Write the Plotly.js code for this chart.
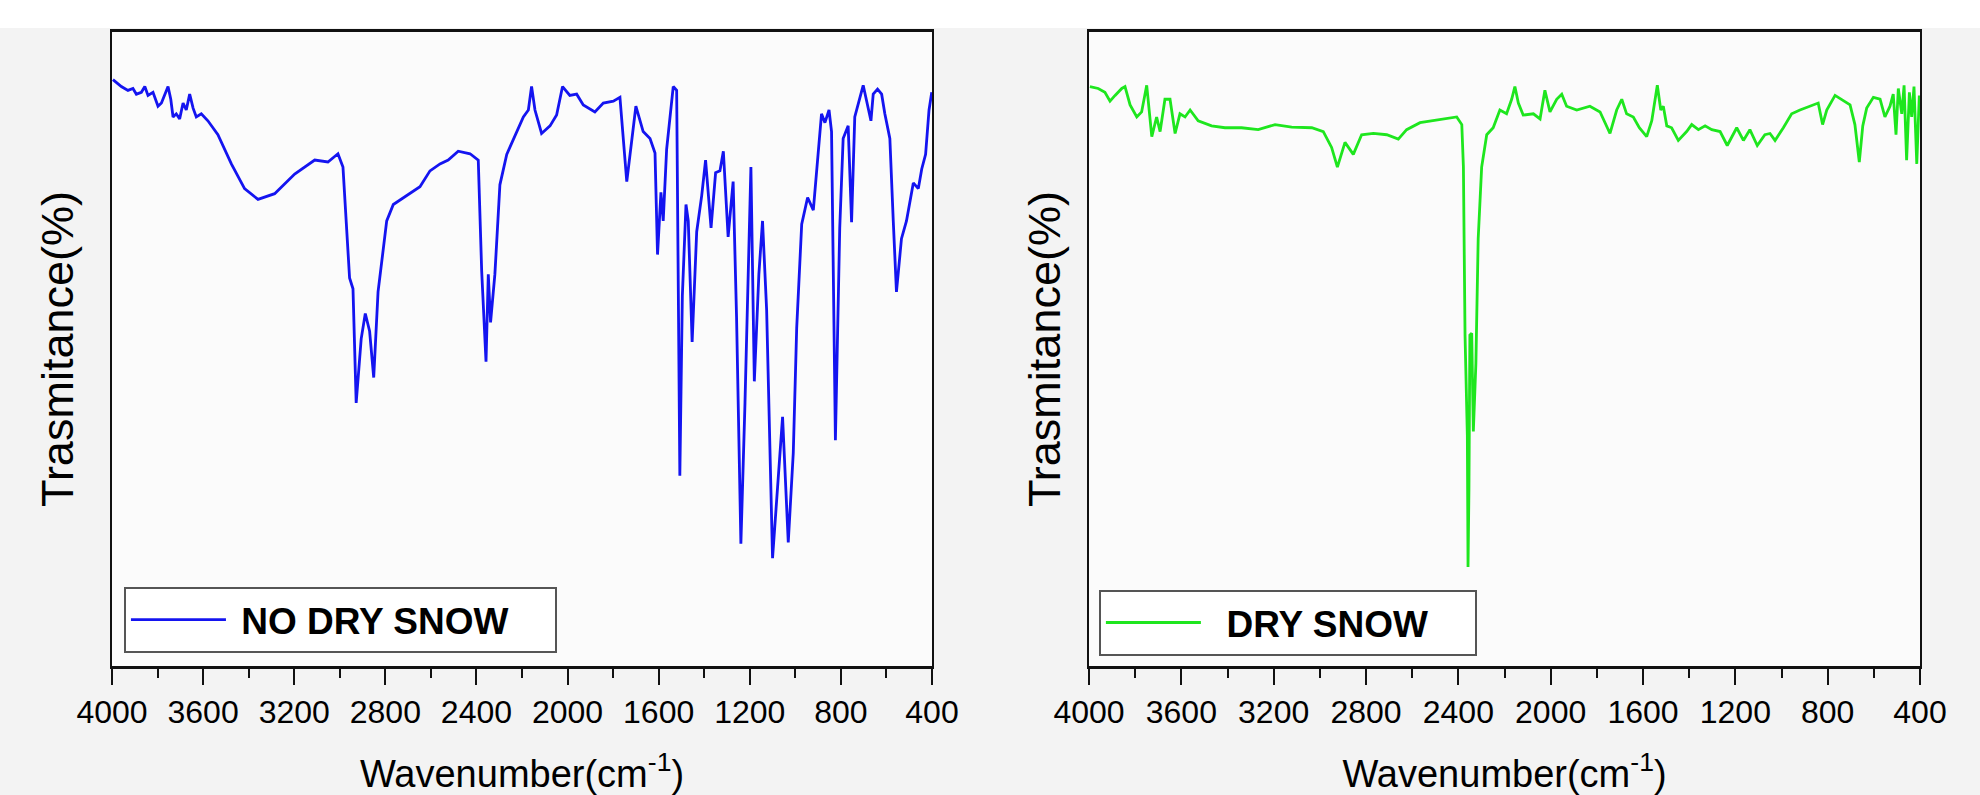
<!DOCTYPE html>
<html>
<head>
<meta charset="utf-8">
<script src="https://cdn.plot.ly/plotly-3.0.1.min.js"></script>
<style>html,body{margin:0;padding:0;background:#f4f4f4;}#chart{width:1980px;height:795px;}</style>
</head>
<body>
<div id="chart"></div>
<script>
// ---- DATA ----
const seriesNames = ["NO DRY SNOW", "DRY SNOW"];
const xTickVals = [4000, 3600, 3200, 2800, 2400, 2000, 1600, 1200, 800, 400];

const wnNoDry = [3996,3959,3930,3908,3893,3871,3856,3842,3820,3798,3783,3769,3754,3742,3732,3718,3703,3688,3674,3659,3644,3630,3608,3579,3535,3476,3418,3359,3286,3198,3110,3052,3008,2986,2971,2957,2942,2928,2906,2888,2869,2851,2832,2803,2794,2765,2721,2677,2648,2604,2560,2524,2480,2428,2392,2377,2358,2348,2338,2319,2297,2267,2224,2194,2172,2158,2143,2114,2077,2048,2022,1990,1960,1931,1880,1843,1799,1770,1740,1718,1700,1668,1638,1616,1605,1590,1580,1565,1551,1536,1521,1514,1507,1496,1480,1470,1453,1433,1411,1394,1370,1350,1331,1316,1295,1273,1258,1239,1221,1195,1180,1160,1144,1126,1100,1056,1031,1009,994,972,946,921,899,885,870,852,841,824,805,790,768,753,739,724,702,668,658,639,621,607,585,570,556,534,512,482,460,445,428,413,401];
const trNoDry = [92.5,91.4,90.8,91.1,90.2,90.5,91.4,90.0,90.5,88.3,88.8,90.0,91.4,89.4,86.6,87.1,86.3,88.8,87.7,90.2,88.0,86.6,87.1,86.0,83.8,79.2,75.3,73.6,74.5,77.6,79.8,79.5,80.8,78.7,70.2,61.2,59.5,41.5,51.6,55.6,52.8,45.5,59.0,67.4,70.2,72.8,73.9,75.0,75.6,78.1,79.2,79.8,81.2,80.8,79.8,62.3,48.0,61.8,54.2,61.8,75.9,80.7,84.3,86.6,87.7,91.4,87.7,84.0,85.2,86.9,91.4,90.0,90.2,88.5,87.4,88.8,89.1,89.7,76.4,83.2,88.3,84.3,83.2,80.9,64.9,74.7,70.2,81.5,86.6,91.4,90.8,64.0,30.0,58.4,72.8,70.2,51.1,68.5,74.2,79.8,69.1,77.8,78.1,81.2,67.7,76.4,55.0,19.3,41.5,78.7,44.9,61.8,70.2,56.2,17.0,39.3,19.5,33.6,53.3,69.7,73.9,71.9,80.9,87.1,85.7,87.7,84.3,35.6,69.1,83.2,85.2,70.0,86.6,88.8,91.6,86.0,90.2,91.0,90.2,87.1,83.2,70.2,59.0,67.4,70.2,76.2,75.3,78.4,80.7,87.7,90.5];

const wnDry = [3996,3960,3931,3909,3887,3858,3844,3822,3793,3772,3750,3728,3707,3692,3671,3649,3627,3606,3584,3562,3527,3469,3411,3339,3267,3194,3122,3035,2985,2949,2924,2891,2855,2819,2768,2710,2660,2624,2566,2508,2450,2407,2385,2378,2371,2361,2358,2354,2350,2342,2335,2324,2314,2299,2277,2249,2220,2191,2169,2155,2140,2119,2075,2046,2025,2003,1974,1952,1931,1887,1830,1786,1743,1714,1692,1671,1642,1616,1584,1562,1538,1523,1512,1497,1476,1447,1411,1389,1360,1331,1302,1266,1235,1194,1165,1137,1105,1072,1050,1028,992,956,920,877,841,822,804,768,732,703,682,663,648,631,602,573,552,530,516,504,494,479,469,458,446,436,426,414,403];
const trDry = [91.4,91.1,90.5,89.1,90.0,91.1,91.4,88.5,86.6,87.4,91.6,83.5,86.6,84.3,89.4,89.4,84.0,87.1,86.6,87.7,86.0,85.2,84.9,84.9,84.6,85.4,85.0,84.9,84.3,81.8,78.7,82.6,80.7,83.8,84.0,83.8,83.1,84.6,85.7,86.0,86.3,86.6,85.4,78.7,52.2,36.4,15.6,28.0,52.2,52.5,37.0,47.7,67.4,78.7,83.8,84.9,87.7,87.1,89.4,91.4,88.8,86.9,87.1,86.3,90.8,87.4,89.4,90.2,88.3,87.7,88.3,87.4,84.0,87.7,89.4,87.1,86.6,84.9,83.5,86.0,91.6,87.7,88.3,85.2,84.9,82.9,84.3,85.4,84.6,85.2,84.6,84.3,82.1,84.9,82.9,84.6,82.1,83.8,84.0,82.9,84.9,87.1,87.7,88.3,88.8,85.4,87.7,90.0,89.1,88.5,85.4,79.5,85.2,88.0,89.7,89.4,86.6,88.3,90.2,83.8,91.1,87.1,91.6,79.8,90.5,86.6,91.4,79.2,90.0];

// ---- CHART ----
const baseFont = "Arial, 'Liberation Sans', Helvetica, sans-serif";
const nb = n => '&nbsp;'.repeat(n);

const traces = [
  {x: wnNoDry, y: trNoDry, type: 'scatter', mode: 'lines', name: nb(1) + seriesNames[0] + nb(4),
   line: {color: '#1414f0', width: 2.8}, xaxis: 'x', yaxis: 'y', legend: 'legend'},
  {x: wnDry, y: trDry, type: 'scatter', mode: 'lines', name: nb(2) + seriesNames[1] + nb(4),
   line: {color: '#1ee61e', width: 2.8}, xaxis: 'x2', yaxis: 'y2', legend: 'legend2'}
];

function xAxis(domain, anchor) {
  return {
    domain: domain, anchor: anchor, range: [4000, 400],
    tickmode: 'array', tickvals: xTickVals, ticktext: xTickVals.map(String),
    ticks: 'outside', ticklen: 16, tickwidth: 2, tickcolor: '#111',
    minor: {tickmode: 'linear', tick0: 400, dtick: 200, ticks: 'outside', ticklen: 9, tickwidth: 2, tickcolor: '#111'},
    showgrid: false, zeroline: false, showline: true, mirror: true,
    linecolor: '#111', linewidth: 3,
    tickfont: {family: baseFont, size: 32, color: '#000'},
    title: {text: 'Wavenumber(cm<sup>-1</sup>)', font: {family: baseFont, size: 38, color: '#000'}, standoff: 34}
  };
}
function yAxis(domain, anchor, standoff) {
  return {
    domain: domain, anchor: anchor, range: [0, 100],
    showticklabels: false, ticks: '', showgrid: false, zeroline: false,
    showline: true, mirror: true, linecolor: '#111', linewidth: 2,
    title: {text: 'Trasmitance(%)', font: {family: baseFont, size: 45, color: '#000'}, standoff: standoff}
  };
}

const yDom = [0.1623, 0.9597];
const legendCommon = {
  bgcolor: '#ffffff', bordercolor: '#555', borderwidth: 2,
  font: {family: baseFont, size: 37, color: '#000', weight: 'bold'},
  xanchor: 'left', yanchor: 'top', itemwidth: 95, tracegroupgap: 0
};

const layout = {
  width: 1980, height: 795,
  margin: {l: 0, r: 0, t: 0, b: 0},
  paper_bgcolor: '#f3f3f3', plot_bgcolor: '#fbfbfb',
  showlegend: true,
  xaxis: xAxis([0.05657, 0.4707], 'y'),
  yaxis: yAxis(yDom, 'x', 22),
  xaxis2: xAxis([0.55, 0.9697], 'y2'),
  yaxis2: yAxis(yDom, 'x2', 12),
  legend: Object.assign({}, legendCommon, {x: 0.0626, y: 0.2616}),
  legend2: Object.assign({}, legendCommon, {x: 0.555, y: 0.2579}),
  shapes: [
    {type: 'rect', xref: 'paper', yref: 'paper', x0: 0, x1: 1, y0: 0.9648, y1: 1,
     fillcolor: '#ffffff', line: {width: 0}, layer: 'below'}
  ]
};

Plotly.newPlot('chart', traces, layout, {staticPlot: true, displayModeBar: false});
</script>
</body>
</html>
